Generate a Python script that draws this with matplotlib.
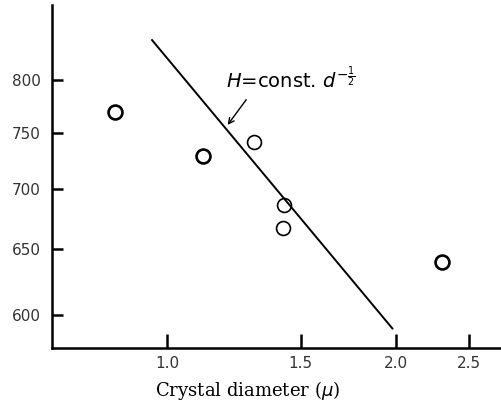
import numpy as np
import matplotlib
matplotlib.use('Agg')
import matplotlib.pyplot as plt
from matplotlib.ticker import FixedLocator, FixedFormatter, NullLocator

# measured points: crystal diameter (micron) vs H
diam = [0.854, 1.115, 1.30, 1.425, 1.42, 2.30]
hard = [769, 729, 741, 686, 667, 640]
bold = [True, True, False, False, False, True]

# fitted line H = const. d^-1/2, end points
line_d = [0.956, 1.98]
line_H = [840, 590]

xticks = [1.0, 1.5, 2.0, 2.5]
xticklabels = ['1.0', '1.5', '2.0', '2.5']
yticks = [600, 650, 700, 750, 800]
yticklabels = ['600', '650', '700', '750', '800']

fig = plt.figure(figsize=(5.02, 4.09), dpi=100)
ax = fig.add_axes([0.1036, 0.149, 0.8964, 0.839])

ax.plot(line_d, line_H, '-', color='k', lw=1.4)
for d, h, b in zip(diam, hard, bold):
    ax.plot(d, h, 'o', mfc='none', mec='k', ms=10, mew=1.9 if b else 1.2)

ax.set_xscale('log')
ax.set_yscale('log')
ax.set_xlim(0.706, 2.76)
ax.set_ylim(576, 877)

ax.xaxis.set_major_locator(FixedLocator(xticks))
ax.xaxis.set_major_formatter(FixedFormatter(xticklabels))
ax.xaxis.set_minor_locator(NullLocator())
ax.yaxis.set_major_locator(FixedLocator(yticks))
ax.yaxis.set_major_formatter(FixedFormatter(yticklabels))
ax.yaxis.set_minor_locator(NullLocator())

for s in ['top', 'right']:
    ax.spines[s].set_visible(False)
for s in ['left', 'bottom']:
    ax.spines[s].set_linewidth(1.8)
ax.tick_params(axis='x', direction='in', length=10, width=1.8, pad=6, labelsize=11, labelcolor='#333333')
ax.tick_params(axis='y', direction='in', length=8, width=1.8, pad=8, labelsize=11, labelcolor='#333333')

# label and arrow pointing at the line
ax.text(1.196, 792, r'$H$=const. $d^{-\frac{1}{2}}$', fontsize=14, ha='left', va='baseline')
ax.annotate('', xy=(1.196, 755), xytext=(1.278, 783),
            arrowprops=dict(arrowstyle='->', color='k', lw=1.0))

fig.text(0.494, 0.046, r'Crystal diameter ($\mu$)', family='DejaVu Serif',
         fontsize=13, ha='center', va='center')

fig.savefig('out.png', dpi=100)
